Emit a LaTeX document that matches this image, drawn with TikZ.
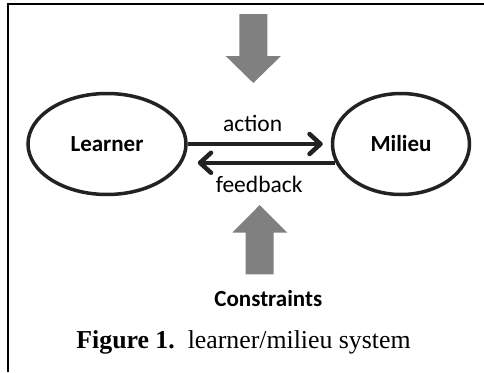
\documentclass[tikz,border=0pt]{standalone}
\usepackage{fontspec}
\setmainfont{Liberation Serif}
\newfontfamily\carlito{Carlito}
\usetikzlibrary{arrows.meta,shapes.geometric}
\definecolor{inkdark}{HTML}{222222}
\definecolor{blockgray}{HTML}{808080}
\tikzset{
  partner/.style={ellipse, draw=inkdark, line width=3.5pt, inner sep=0pt,
    font=\carlito\bfseries\fontsize{23}{27}\selectfont},
  flow/.style={draw=inkdark, line width=4.5pt,
    -{Straight Barb[length=11pt,width=20pt,line cap=round,line join=round]}},
  flowlabel/.style={font=\carlito\fontsize{23.5}{28}\selectfont, inner sep=0pt},
  blockarrow/.style={fill=blockgray, draw=none},
  frameline/.style={draw=black, line width=2pt}
}
\begin{document}
\begin{tikzpicture}[x=1pt,y=-1pt]
\useasboundingbox (0,0) rectangle (484,372);
% frame (top and left lines only)
\draw[frameline] (7.5,372) -- (7.5,4) -- (484,4);
% nodes
\node[partner, minimum width=158pt, minimum height=101pt] (L) at (107,144) {Learner};
\node[partner, minimum width=137pt, minimum height=101pt] (M) at (401,144) {Milieu};
% connectors
\path (M.west) ++(-8pt,0) coordinate (ae);
\draw[flow] (L.east) -- (ae |- L.east);
\path (L.east) ++(10pt,0) coordinate (fe);
\draw[flow] (M.196) -- (fe |- M.196);
\node[flowlabel] (act) at (252.7,123.3) {action};
\node[flowlabel] (fb) at (259.2,184.3) {feedback};
% block arrows
\fill[blockarrow] (239.3,14) -- (267.3,14) -- (267.3,56) -- (281,56) -- (253.3,83)
  -- (225.7,56) -- (239.3,56) -- cycle;
\fill[blockarrow] (245.7,274.3) -- (273.7,274.3) -- (273.7,232.7) -- (287.3,232.7)
  -- (259.7,205) -- (232.3,232.7) -- (245.7,232.7) -- cycle;
\node[font=\carlito\bfseries\fontsize{23}{27}\selectfont, inner sep=0pt] (con) at (268.3,299) {Constraints};
\node[font=\fontsize{25.8}{30}\selectfont, inner sep=0pt] (cap) at (243.5,342.3) {\textbf{Figure 1.}\ \ learner/milieu system};
\end{tikzpicture}
\end{document}
